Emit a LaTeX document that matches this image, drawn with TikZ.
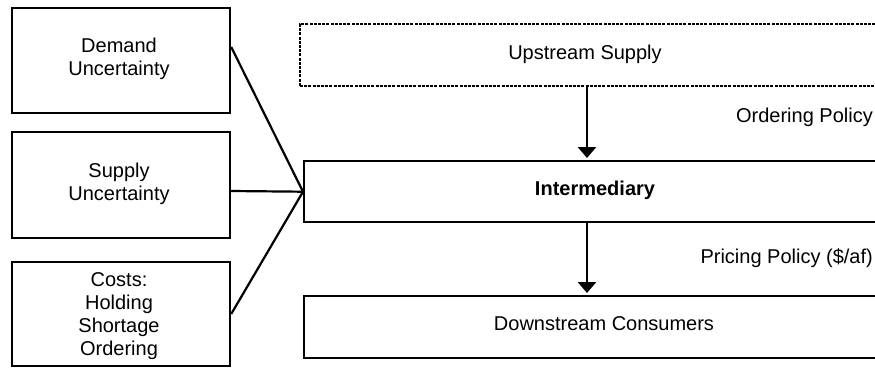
\documentclass[tikz,border=0pt]{standalone}
\usepackage{fontspec}
\setmainfont{Liberation Sans}
\usetikzlibrary{arrows.meta}
\begin{document}
\begin{tikzpicture}[x=1pt,y=-1pt,
  every node/.style={font=\fontsize{20}{22.8}\selectfont},
  box/.style={draw, line width=2.4pt, rectangle, inner sep=0pt},
  dbox/.style={draw, line width=1.8pt, dash pattern=on 3pt off 1.2pt, rectangle, inner sep=0pt},
  conn/.style={line width=2.2pt},
  arr/.style={line width=2.8pt, -{Triangle[width=18pt,length=11pt]}},
  lbl/.style={inner sep=0pt, align=center}]
\path[use as bounding box] (0,0) rectangle (875,367);
\clip (0,0) rectangle (875,367);
% left boxes
\node[box, minimum width=218pt, minimum height=105pt] (dem) at (121,60.5) {};
\node[box, minimum width=218pt, minimum height=106pt] (sup) at (121,185) {};
\node[box, minimum width=218pt, minimum height=104pt] (cost) at (121,314) {};
% (base anchor = baseline of the last line)
\node[lbl, anchor=base] (demT) at (119,75) {Demand\\Uncertainty};
\node[lbl, anchor=base] (supT) at (119,200) {Supply\\Uncertainty};
\node[lbl, anchor=base] (costT) at (119,355) {Costs:\\Holding\\Shortage\\Ordering};
% right boxes (extend past the right edge)
\node[dbox, anchor=north west, minimum width=620pt, minimum height=62pt] (up) at (299,23) {};
\node[box, anchor=north west, minimum width=620pt, minimum height=61pt] (mid) at (303,160) {};
\node[box, anchor=north west, minimum width=620pt, minimum height=62pt] (down) at (303,295) {};
% texts in right boxes
\node[lbl] (upT) at (585,54) {Upstream Supply};
\node[lbl, font=\fontsize{20}{23}\selectfont\bfseries] (midT) at (595,190.5) {Intermediary};
\node[lbl, anchor=base] (downT) at (604,330) {Downstream Consumers};
% policy labels
\node[lbl, anchor=base east] (ord) at (873,122) {Ordering Policy};
\node[lbl, anchor=base east] (pri) at (873,263) {Pricing Policy (\$/af)};
% connectors from left boxes
\draw[conn] ([yshift=13.5pt]dem.east) -- (mid.west);
\draw[conn] ([yshift=-6pt]sup.east) -- (mid.west);
\draw[conn] (cost.east) -- (mid.west);
% vertical arrows
\coordinate (ax) at (587,0);
\draw[arr] (up.south -| ax) -- ([yshift=2pt]mid.north -| ax);
\draw[arr] (mid.south -| ax) -- ([yshift=2pt]down.north -| ax);
\end{tikzpicture}
\end{document}
